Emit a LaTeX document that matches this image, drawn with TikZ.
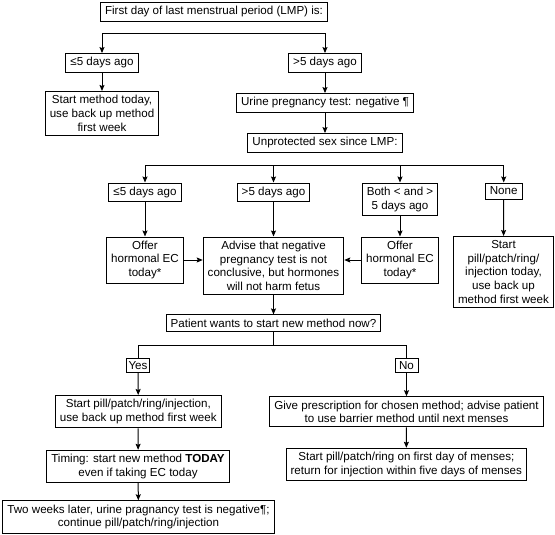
\documentclass[tikz,border=0pt]{standalone}
\usepackage{fontspec}
\setmainfont{Liberation Sans}
\usepackage{tikz}
\usetikzlibrary{arrows.meta,positioning}

\begin{document}
\begin{tikzpicture}[
  x=1pt,y=-1pt,
  box/.style={draw,line width=1pt,align=center,inner xsep=4.5pt,inner ysep=4pt,font=\fontsize{11.6}{13.6}\selectfont},
  tight/.style={box,inner xsep=1pt,inner ysep=3pt,minimum width=23pt},
  arrow/.style={-{Stealth[length=6pt,width=5pt,inset=1pt]},line width=1pt},
  link/.style={line width=1pt}
]
\useasboundingbox (0,0) rectangle (555,535);

% when was the last period
\node[box] (lmp) at (214,12) {First day of last menstrual period (LMP) is:};
\node[box] (early) at (102,63) {≤5 days ago};
\node[box] (late) at (325,63) {>5 days ago};
\node[box,anchor=north] (startnow) at (102,91) {Start method today,\\use back up method\\first week};
\node[box] (urine) at (325,103) {Urine pregnancy test: negative ¶};
\node[box] (unprot) at (325,143) {Unprotected sex since LMP:};
\coordinate (fork) at (214,33.7);
\draw[arrow] (fork) -| (early);
\draw[arrow] (fork) -| (late);
\draw[arrow] (early) -- (startnow);
\draw[arrow] (late) -- (urine);
\draw[arrow] (urine) -- (unprot);

% unprotected sex
\node[box,anchor=north] (sexearly) at (145,182.5) {≤5 days ago};
\node[box,anchor=north] (sexlate) at (273.5,182.5) {>5 days ago};
\node[box,anchor=north] (sexboth) at (400,182.5) {Both < and >\\5 days ago};
\node[box,anchor=north] (sexnone) at (503.7,182.5) {None};
\coordinate (fork2) at (325,165.3);
\draw[arrow] (fork2) -| (sexearly);
\draw[arrow] (fork2) -| (sexlate);
\draw[arrow] (fork2) -| (sexboth);
\draw[arrow] (fork2) -| (sexnone);

\node[box,anchor=north] (ecleft) at (145,236.5) {Offer\\hormonal EC\\today*};
\node[box,anchor=north] (advise) at (273.5,236.5) {Advise that negative\\pregnancy test is not\\conclusive, but hormones\\will not harm fetus};
\node[box,anchor=north] (ecright) at (400,236.5) {Offer\\hormonal EC\\today*};
\node[box,anchor=north] (pillnow) at (503.5,236) {Start\\pill/patch/ring/\\injection today,\\use back up\\method first week};
\draw[arrow] (sexearly) -- (ecleft);
\draw[arrow] (sexlate) -- (advise);
\draw[arrow] (sexboth) -- (ecright);
\draw[arrow] (sexnone) -- (pillnow);
\draw[arrow] (ecleft) -- (ecleft -| advise.west);
\draw[arrow] (ecright) -- (ecright -| advise.east);

% start now or later
\node[box] (patient) at (273.5,323.2) {Patient wants to start new method now?};
\draw[arrow] (advise) -- (patient);
\coordinate (choice) at (273.5,345.7);
\node[tight] (yes) at (138,365.5) {Yes};
\node[tight] (no) at (406.5,365.5) {No};
\draw[link] (patient) -- (choice);
\draw[link] (choice) -| (yes);
\draw[link] (choice) -| (no);

\node[box] (pillyes) at (138.3,411.7) {Start pill/patch/ring/injection,\\use back up method first week};
\node[box] (timing) at (138,466.5) {Timing: start new method \textbf{TODAY}\\even if taking EC today};
\node[box] (later) at (138.5,517) {Two weeks later, urine pragnancy test is negative¶;\\continue pill/patch/ring/injection};
\draw[arrow] (yes) -- (pillyes);
\draw[arrow] (pillyes) -- (timing);
\draw[arrow] (timing) -- (later);

\node[box] (script) at (406.5,411.8) {Give prescription for chosen method; advise patient\\to use barrier method until next menses};
\node[box] (menses) at (406.3,464.5) {Start pill/patch/ring on first day of menses;\\return for injection within five days of menses};
\draw[arrow] (no) -- (script);
\draw[arrow] (script) -- (menses);
\end{tikzpicture}
\end{document}
